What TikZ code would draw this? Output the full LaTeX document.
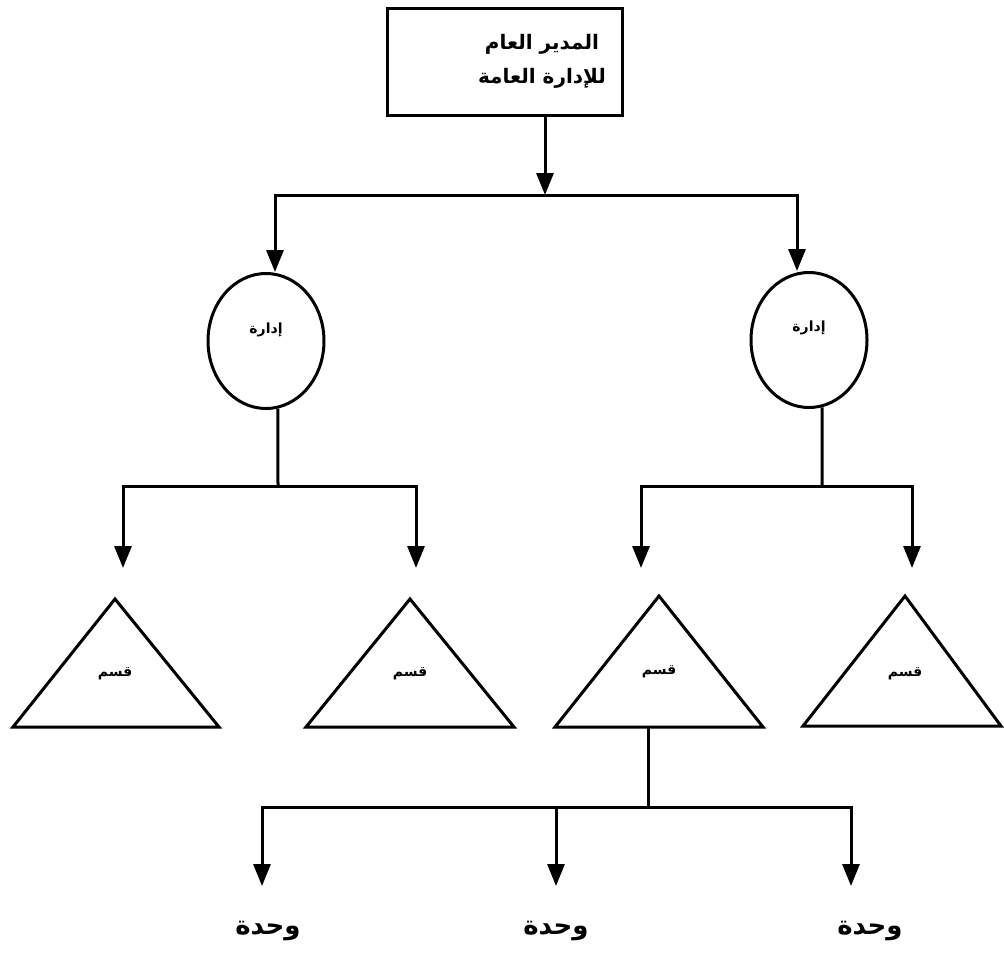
\documentclass[tikz,border=0pt]{standalone}
\usepackage{fontspec}
\newfontfamily\arabicfont[Script=Arabic]{DejaVu Sans}
\TeXXeTstate=1
\usetikzlibrary{shapes.geometric,arrows.meta}

\begin{document}
\begin{tikzpicture}[x=1pt,y=-1pt,
  conn/.style={line width=3pt},
  arr/.style={conn,-{Triangle[length=22pt,width=17pt]}},
  shapeline/.style={draw,line width=3pt,inner sep=0pt},
  artext/.style={inner sep=0pt,font=\arabicfont\bfseries},
  smalltext/.style={artext,font=\arabicfont\bfseries\fontsize{14}{16}\selectfont},
  unitbox/.style={shapeline,ellipse,minimum width=116pt,minimum height=135pt}]

\useasboundingbox (0,0) rectangle (1004,962);

% general manager
\node[shapeline,minimum width=235pt,minimum height=107pt] (gm) at (505,62) {};
\node[artext,align=center,font=\arabicfont\bfseries\fontsize{20}{34}\selectfont] (gmtext) at (542,61)
  {\beginR المدير العام\endR\\\beginR للإدارة العامة\endR};

% two departments
\node[unitbox] (dL) at (266,341) {};
\node[unitbox] (dR) at (809,340) {};
\node[smalltext] (dLt) at (266,330) {\beginR إدارة\endR};
\node[smalltext] (dRt) at (809,328) {\beginR إدارة\endR};

\coordinate (j0) at (545,195);
\draw[arr] ([xshift=40pt]gm.south) -- (j0);
\draw[arr] (j0) -| ([xshift=9pt]dL.north);
\draw[arr] (j0) -| ([xshift=-12pt]dR.north);

% sections (triangles)
\coordinate (t1a) at (115,599); \coordinate (t1l) at (13,727);  \coordinate (t1r) at (219,727);
\coordinate (t2a) at (410,599); \coordinate (t2l) at (306,727); \coordinate (t2r) at (514,727);
\coordinate (t3a) at (659,596); \coordinate (t3l) at (555,727); \coordinate (t3r) at (763,727);
\coordinate (t4a) at (905,596); \coordinate (t4l) at (803,726); \coordinate (t4r) at (1001,726);
\foreach \t in {1,2,3,4}
  \draw[conn,line join=miter] (t\t a) -- (t\t r) -- (t\t l) -- cycle;
\foreach \t/\x/\y in {1/115/674,2/410/674,3/659/672,4/905/674}
  \node[smalltext] (q\t) at (\x,\y) {\beginR قسم\endR};

% left department to its sections
\coordinate (jL) at (278,486);
\coordinate (e1) at (123,568);
\coordinate (e2) at (416,568);
\draw[conn] (dL.-80) -- (jL);
\draw[arr] (jL) -| (e1);
\draw[arr] (jL) -| (e2);

% right department to its sections
\coordinate (jR) at (822,486);
\coordinate (e3) at (641,568);
\coordinate (e4) at (912,568);
\draw[conn] (dR.-79) -- (jR);
\draw[arr] (jR) -| (e3);
\draw[arr] (jR) -| (e4);

% units under the third section
\coordinate (s3) at (648,727);
\coordinate (j3) at (648,807);
\coordinate (f1) at (262,886);
\coordinate (f2) at (556,886);
\coordinate (f3) at (851,886);
\draw[conn] (s3) -- (j3);
\draw[arr] (j3) -| (f1);
\draw[arr] (j3) -| (f2);
\draw[arr] (j3) -| (f3);
\foreach \u/\x in {1/268,2/556,3/870}
  \node[artext,font=\arabicfont\bfseries\fontsize{26}{30}\selectfont] (u\u) at (\x,931) {\beginR وحدة\endR};
\end{tikzpicture}
\end{document}
